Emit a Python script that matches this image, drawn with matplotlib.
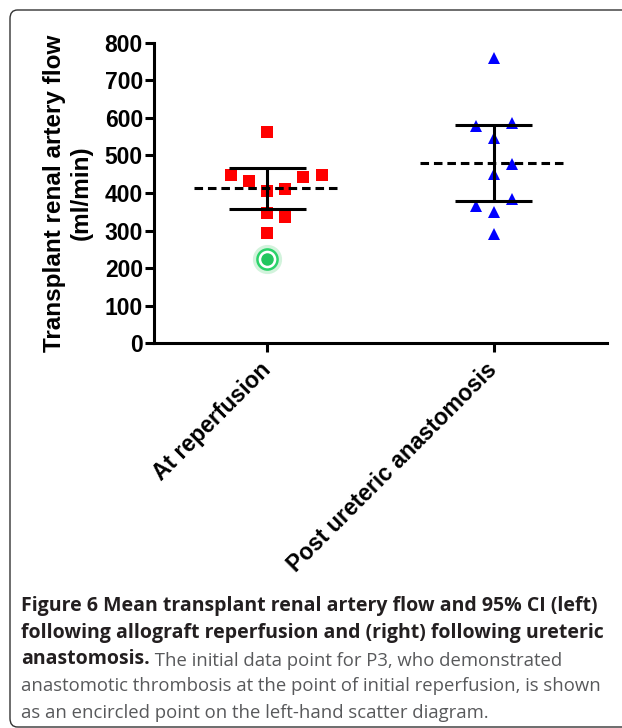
import matplotlib
matplotlib.use("Agg")
import matplotlib.pyplot as plt
import numpy as np
from matplotlib.patches import FancyBboxPatch

# renal artery flow (ml/min)
groups = ["At reperfusion", "Post ureteric anastomosis"]
reperfusion = [562, 447, 431, 406, 410, 443, 447, 346, 335, 294]
post_ureteric = [758, 577, 587, 547, 477, 450, 366, 383, 348, 290]
p3_initial = 225  # thrombosed case, drawn encircled, not in the mean
yticks = [0, 100, 200, 300, 400, 500, 600, 700, 800]

# horizontal scatter of the dot-plot columns (layout only)
reperfusion_dx = [0, -0.16, -0.08, 0, 0.08, 0.16, 0.24, 0, 0.08, 0]
post_ureteric_dx = [0, -0.08, 0.08, 0, 0.08, 0, -0.08, 0.08, 0, 0]

T_CRIT = 2.262  # t(0.975, df=9)

W, H = 622, 728


def fx(px):
    return px / W


def fy(py):
    return 1 - py / H


def mean_ci(vals):
    v = np.asarray(vals, float)
    m = v.mean()
    half = T_CRIT * v.std(ddof=1) / np.sqrt(len(v))
    return m, m - half, m + half


fig = plt.figure(figsize=(W / 100, H / 100), dpi=100)

# rounded frame of the figure panel, clipped at right and bottom
frame = FancyBboxPatch((fx(10), fy(727)), fx(700), fy(10) - fy(727),
                       boxstyle="round,pad=0,rounding_size=0.012",
                       transform=fig.transFigure, fill=False,
                       ec="#333333", lw=1.0)
fig.patches.append(frame)

ax = fig.add_axes([fx(154), fy(343.3), fx(607) - fx(154), fy(42.5) - fy(343.3)])
ax.set_xlim(-0.5, 1.5)
ax.set_ylim(0, 800)

lw = 2.2
for i, (vals, dx, marker, color) in enumerate([
        (reperfusion, reperfusion_dx, "s", "#ff0000"),
        (post_ureteric, post_ureteric_dx, "^", "#0000ff")]):
    xs = [i + d for d in dx]
    ax.plot(xs, vals, ls="none", marker=marker, ms=8.8, mfc=color, mec=color,
            mew=0, zorder=2, clip_on=False)
    m, lo, hi = mean_ci(vals)
    ax.hlines(m, i - 0.325, i + 0.325, colors="black", lw=lw,
              linestyles=(0, (2.8, 1.6)), zorder=3)
    ax.vlines(i, lo, hi, colors="black", lw=lw, zorder=3)
    ax.hlines([lo, hi], i - 0.17, i + 0.17, colors="black", lw=lw, zorder=3)

# encircled initial P3 point
ax.plot([0], [p3_initial], ls="none", marker="o", ms=17, mfc="none",
        mec="#d2f3dc", mew=4, zorder=1)
ax.plot([0], [p3_initial], ls="none", marker="o", ms=14.5, mfc="white",
        mec="#2bd36a", mew=1.8, zorder=2)
ax.plot([0], [p3_initial], ls="none", marker="o", ms=9, mfc="#22c65e",
        mec="#22c65e", mew=0, zorder=3)

for s in ["top", "right"]:
    ax.spines[s].set_visible(False)
for s in ["left", "bottom"]:
    ax.spines[s].set_linewidth(lw)

tick_font = dict(family="Liberation Sans", weight="bold", size=16.5)
ax.set_yticks(yticks)
ax.set_yticklabels([str(t) for t in yticks], **tick_font)
ax.set_xticks([0, 1])
ax.set_xticklabels(groups, rotation=45, ha="right", va="center",
                   rotation_mode="anchor", **tick_font)
ax.tick_params(axis="both", width=lw, length=6.5, color="black")
ax.tick_params(axis="y", pad=1.5)
ax.tick_params(axis="x", pad=10)

ax.set_ylabel("Transplant renal artery flow\n(ml/min)", family="Liberation Sans",
              weight="bold", size=17.5, linespacing=1.25)
ax.yaxis.set_label_coords((93 - 154) / 453, 0.5)

# caption
cap_x = fx(21)
bold_c = "#231f20"
norm_c = "#58595b"
fig.text(cap_x, fy(611.5), "Figure 6 Mean transplant renal artery flow and 95% CI (left)",
         family="Open Sans", size=14, weight="bold", color=bold_c, va="baseline")
fig.text(cap_x, fy(638), "following allograft reperfusion and (right) following ureteric",
         family="Open Sans", size=14, weight="bold", color=bold_c, va="baseline")
t3 = fig.text(cap_x, fy(664.5), "anastomosis.", family="Open Sans", size=14,
              weight="bold", color=bold_c, va="baseline")
ax.annotate(" The initial data point for P3, who demonstrated", xy=(1, 0),
            xycoords=t3, va="bottom", ha="left", color=norm_c,
            family="Open Sans", size=13.3, annotation_clip=False)
fig.text(cap_x, fy(691), "anastomotic thrombosis at the point of initial reperfusion, is shown",
         family="Open Sans", size=13.3, color=norm_c, va="baseline")
fig.text(cap_x, fy(717.5), "as an encircled point on the left-hand scatter diagram.",
         family="Open Sans", size=13.3, color=norm_c, va="baseline")

fig.savefig("out.png", dpi=100)
